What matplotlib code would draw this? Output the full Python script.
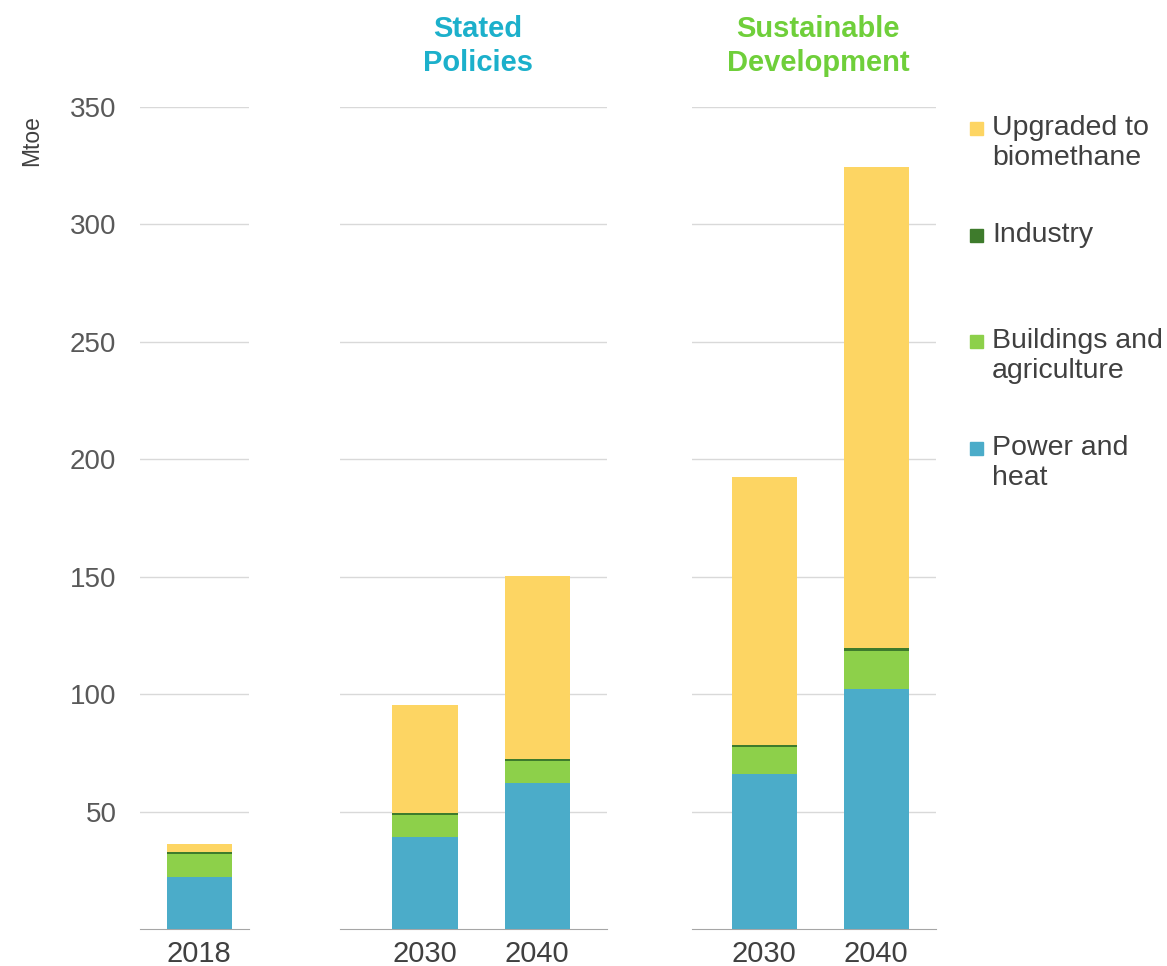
import matplotlib.pyplot as plt
from matplotlib.patches import Rectangle

plt.rcParams['font.family'] = ['Liberation Sans', 'DejaVu Sans']

# Biogas-Nutzung nach Sektor, Mtoe
years_2018 = ["2018"]
years_scen = ["2030", "2040"]

power_2018 = [22.0]
build_2018 = [10.0]
indus_2018 = [0.6]
upgr_2018 = [3.8]

power_steps = [39.0, 62.0]
build_steps = [9.5, 9.5]
indus_steps = [1.0, 1.0]
upgr_steps = [46.0, 78.0]

power_sds = [66.0, 102.0]
build_sds = [11.5, 16.5]
indus_sds = [1.0, 1.0]
upgr_sds = [114.0, 205.0]

series_names = ["Upgraded to\nbiomethane", "Industry", "Buildings and\nagriculture", "Power and\nheat"]
colors = {"power": "#4BACC9", "build": "#8DD04A", "indus": "#3E7B2C", "upgr": "#FDD563"}
legend_cols = [colors["upgr"], colors["indus"], colors["build"], colors["power"]]

W, H = 1167, 966
fig = plt.figure(figsize=(W / 100, H / 100), dpi=100)

y0_px, y350_px = 929, 107
step = 112.0  # Pixel pro Kategorie
bar_w = 65 / step


def make_panel(left_px, right_px, first_bar_px, labels, power, build, indus, upgr):
    ax = fig.add_axes([left_px / W, 1 - y0_px / H, (right_px - left_px) / W, (y0_px - y350_px) / H])
    x = list(range(len(labels)))
    b1 = power
    b2 = [a + b for a, b in zip(b1, build)]
    b3 = [a + b for a, b in zip(b2, indus)]
    ax.bar(x, power, width=bar_w, color=colors["power"], zorder=3)
    ax.bar(x, build, width=bar_w, bottom=b1, color=colors["build"], zorder=3)
    ax.bar(x, indus, width=bar_w, bottom=b2, color=colors["indus"], zorder=3)
    ax.bar(x, upgr, width=bar_w, bottom=b3, color=colors["upgr"], zorder=3)
    ax.set_xlim(-(first_bar_px - left_px) / step, (right_px - first_bar_px) / step)
    ax.set_ylim(0, 350)
    ax.set_yticks(range(50, 351, 50))
    ax.yaxis.grid(True, color="#D9D9D9", lw=1, zorder=0)
    ax.set_xticks(x)
    ax.set_xticklabels(labels, fontsize=21, color="#404040")
    ax.tick_params(axis="x", length=0, pad=8)
    ax.tick_params(axis="y", length=0, labelsize=20, labelcolor="#595959", pad=17)
    for s in ["top", "right", "left"]:
        ax.spines[s].set_visible(False)
    ax.spines["bottom"].set_color("#A6A6A6")
    return ax


ax1 = make_panel(140, 249, 199, years_2018, power_2018, build_2018, indus_2018, upgr_2018)
ax2 = make_panel(340, 607, 425, years_scen, power_steps, build_steps, indus_steps, upgr_steps)
ax3 = make_panel(692, 936, 764, years_scen, power_sds, build_sds, indus_sds, upgr_sds)
ax2.set_yticklabels([])
ax3.set_yticklabels([])

# Szenario-Titel
fig.text(478 / W, 1 - 46 / H, "Stated\nPolicies", ha="center", va="center",
         fontsize=21, fontweight="bold", color="#1CB0CB", linespacing=1.3)
fig.text(818 / W, 1 - 46 / H, "Sustainable\nDevelopment", ha="center", va="center",
         fontsize=21, fontweight="bold", color="#6FCF3A", linespacing=1.3)

fig.text(32 / W, 1 - 141 / H, "Mtoe", rotation=90, ha="center", va="center", fontsize=16.5, color="#404040")

# Legende
leg_y = [143, 235, 356, 463]
for name, col, yp in zip(series_names, legend_cols, leg_y):
    sq_y = yp - 15 if "\n" in name else yp
    fig.patches.append(Rectangle((970 / W, 1 - (sq_y + 7) / H), 13 / W, 13 / H,
                                 transform=fig.transFigure, color=col, figure=fig))
    fig.text(992 / W, 1 - yp / H, name, ha="left", va="center", fontsize=20.5,
             color="#404040", linespacing=1.2)

fig.savefig("out.png", dpi=100, facecolor="white")
